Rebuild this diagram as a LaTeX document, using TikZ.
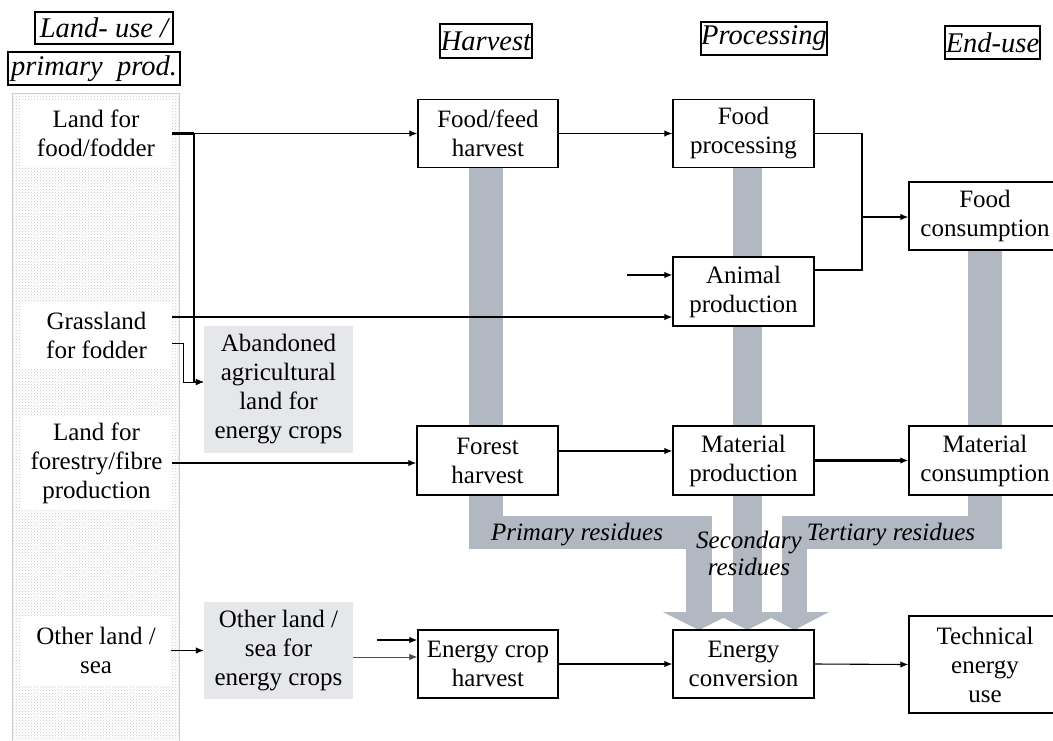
\documentclass[tikz,border=0pt]{standalone}
\usepackage{fontspec}
\setmainfont{Liberation Serif}
\usetikzlibrary{arrows.meta,patterns}
\definecolor{barc}{RGB}{177,184,193}
\definecolor{gbox}{RGB}{230,231,234}
\definecolor{colb}{RGB}{200,205,214}
\begin{document}
\begin{tikzpicture}[x=1pt,y=-1pt,
 every node/.style={font=\fontsize{25}{29}\selectfont, inner sep=0pt, align=center},
 box/.style={draw, line width=1.4pt, fill=white},
 wbox/.style={fill=white},
 gbx/.style={fill=gbox},
 hdr/.style={draw, line width=1.4pt, font=\fontsize{28.5}{32}\selectfont\itshape},
 lab/.style={font=\fontsize{25}{27}\selectfont\itshape},
 conn/.style={line width=1.1pt, -{Latex[length=8pt,width=6.5pt]}},
 ln/.style={line width=1.1pt},
]
\useasboundingbox (0,0) rectangle (1053,740);
% left column
\fill[white] (12,93) rectangle (179,745);
\fill[pattern=crosshatch dots, pattern color=black!20] (12,93) rectangle (179,745);
\draw[colb, line width=1pt] (12,745) -- (12,93) -- (179,93) -- (179,745);
% residue bars
\fill[barc] (469,168) rectangle (503,549);
\fill[barc] (469,516) rectangle (712,549);
\fill[barc] (686,516) rectangle (712,612);
\fill[barc] (663,612) -- (735,612) -- (699,630) -- cycle;
\fill[barc] (733,168) rectangle (762,612);
\fill[barc] (712,612) -- (783,612) -- (747.5,630) -- cycle;
\fill[barc] (968,250) rectangle (1002,549);
\fill[barc] (782,516) rectangle (1002,549);
\fill[barc] (782,516) rectangle (807,612);
\fill[barc] (760,612) -- (829,612) -- (794.5,630) -- cycle;
% headers
\node[hdr, minimum width=138pt, minimum height=32pt] (h1) at (104,28) {Land- use /};
\node[hdr, minimum width=172pt, minimum height=33pt] (h2) at (94,68.5) {primary~~prod.};
\node[hdr, minimum width=92pt, minimum height=34pt] (h3) at (486,41) {Harvest};
\node[hdr, minimum width=126pt, minimum height=33pt] (h4) at (764,38.5) {Processing};
\node[hdr, minimum width=95pt, minimum height=33pt] (h5) at (992.5,42.5) {End-use};
% left column boxes
\node[wbox, minimum width=152pt, minimum height=67pt] (lff) at (96,133.5) {Land for\\food/fodder};
\node[wbox, minimum width=151pt, minimum height=67pt] (grass) at (96.5,335.5) {Grassland\\for fodder};
\node[wbox, minimum width=151pt, minimum height=94pt] (lfor) at (96.5,463) {Land for\\forestry/fibre\\production};
\node[wbox, minimum width=150pt, minimum height=69pt] (ol) at (96,650.5) {Other land /\\sea};
% grey boxes
\node[gbx, minimum width=149pt, minimum height=127pt] (aband) at (278.5,389.5) {Abandoned\\agricultural\\land for\\energy crops};
\node[gbx, minimum width=149pt, minimum height=97pt] (olg) at (278.5,650.5) {Other land /\\sea for\\energy crops};
% process boxes
\node[box, minimum width=140pt, minimum height=68pt] (ffh) at (488,133.5) {Food/feed\\harvest};
\node[box, minimum width=141pt, minimum height=68pt] (fp) at (743.5,133.5) {Food\\processing};
\node[box, minimum width=141pt, minimum height=69pt] (anim) at (743.5,291.5) {Animal\\production};
\node[box, minimum width=152pt, minimum height=68pt] (fc) at (985,216) {Food\\consumption};
\node[box, minimum width=141pt, minimum height=69pt] (fh) at (487.5,460.5) {Forest\\harvest};
\node[box, minimum width=141pt, minimum height=69pt] (mp) at (743.5,460.5) {Material\\production};
\node[box, minimum width=152pt, minimum height=69pt] (mc) at (985,460.5) {Material\\consumption};
\node[box, minimum width=140pt, minimum height=68pt] (ech) at (488,664) {Energy crop\\harvest};
\node[box, minimum width=141pt, minimum height=68pt] (ec) at (743.5,664) {Energy\\conversion};
\node[box, minimum width=152pt, minimum height=97pt] (te) at (985,664.5) {Technical\\energy\\use};
% residue labels
\node[lab] (pr) at (577,535) {Primary residues};
\node[lab] (sr) at (749,553) {Secondary\\residues};
\node[lab] (tr) at (891,535) {Tertiary residues};
% connectors
\coordinate (j1) at (194,133.5);
\coordinate (j2) at (862,217);
\coordinate (f1) at (377,640);
\coordinate (f2) at (627,275);
\draw[conn] (lff.east) -- (ffh.west);
\draw[line width=2.4pt] (lff.east) -- (j1);
\draw[conn] (j1) |- ([yshift=7.5pt]aband.west);
\draw[conn] ([yshift=18.5pt]grass.east) -- ([yshift=18.5pt]grass.east -| anim.west);
\draw[conn, line width=0.8pt] ([yshift=-7.5pt]grass.east) -- ++(11,0) |- ([yshift=7.5pt]aband.west);
\draw[conn] (lfor.east) -- (lfor.east -| fh.west);
\draw[conn] (ol.east) -- (olg.west);
\draw[conn, line width=0.8pt, black!70] ([yshift=-6.5pt]olg.east) -- ([yshift=-6.5pt]olg.east -| ech.west);
\draw[conn] (f1) -- (f1 -| ech.west);
\draw[conn] (ffh.east) -- (fp.west);
\draw[conn] (f2) -- (f2 -| anim.west);
\draw[ln] (fp.east) -| (j2);
\draw[ln] ([yshift=21.5pt]anim.east) -| (j2);
\draw[conn] (j2) -- (j2 -| fc.west);
\draw[conn] ([yshift=9.5pt]fh.east) -- ([yshift=9.5pt]fh.east -| mp.west);
\draw[conn, line width=2.2pt] (mp.east) -- (mc.west);
\draw[conn] (ech.east) -- (ec.west);
\draw[conn] (ec.east) -- (te.west);
\end{tikzpicture}
\end{document}
